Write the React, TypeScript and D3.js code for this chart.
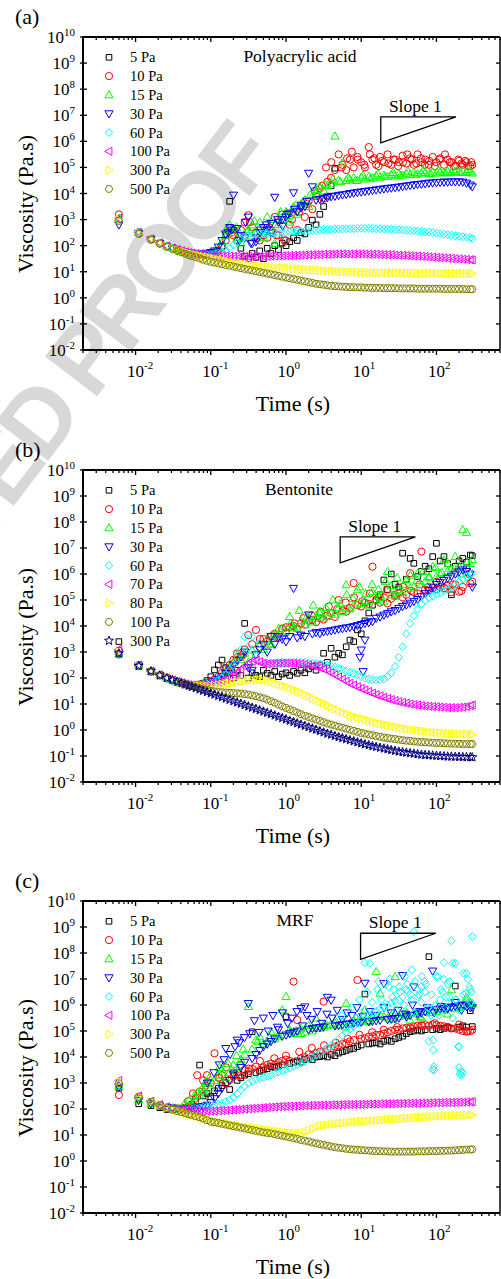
import React, { useEffect } from 'react';
import * as d3 from 'd3';

// ---------- shared time grid (s) ----------
const TIME = [
  0.006, 0.011, 0.016, 0.021, 0.026, 0.031, 0.036, 0.041, 0.046, 0.051, 0.056, 0.063, 0.071, 0.079, 0.089,
  0.1, 0.112, 0.126, 0.141, 0.158, 0.178, 0.2, 0.224, 0.251, 0.282, 0.316, 0.355, 0.398, 0.447, 0.501, 0.562, 0.631, 0.708, 0.794, 0.891,
  1, 1.12, 1.26, 1.41, 1.58, 1.78, 2, 2.24, 2.51, 2.82, 3.16, 3.55, 3.98, 4.47, 5.01, 5.62, 6.31, 7.08, 7.94, 8.91,
  10, 11.2, 12.6, 14.1, 15.8, 17.8, 20, 22.4, 25.1, 28.2, 31.6, 35.5, 39.8, 44.7, 50.1, 56.2, 63.1, 70.8, 79.4, 89.1,
  100, 112, 126, 141, 158, 178, 200, 224, 251, 282, 300,
];

// ---------- (a) Polyacrylic acid: log10 viscosity (Pa.s) at TIME ----------
const PAA_5 = [
  3.0, 2.5, 2.25, 2.1, 1.98, 1.9, 1.84, 1.79, 1.75, 1.72, 1.7, 1.69, 1.68, 1.68, 1.69,
  1.7, 1.72, 1.8, 2.0, 2.4, 3.7, 2.6, 2.2, 1.9, 1.6, 1.5, 1.7, 1.55, 1.8, 1.5, 1.9, 1.7, 2.0, 1.85, 2.1,
  2.0, 2.15, 2.3, 2.2, 2.5, 2.45, 2.7, 2.98, 2.8, 3.2, 3.5, 3.9, 4.3, 4.97,
];
const PAA_10 = [
  3.2, 2.52, 2.26, 2.1, 1.98, 1.9, 1.84, 1.79, 1.75, 1.72, 1.7, 1.69, 1.68, 1.68, 1.69,
  1.71, 1.75, 1.82, 1.95, 2.2, 2.66, 2.4, 2.2, 2.6, 2.9, 3.17, 2.7, 2.5, 2.2, 2.4, 2.3, 2.6, 3.1, 2.4, 3.2,
  2.2, 2.8, 3.3, 2.6, 3.5, 3.1, 3.7, 3.4, 3.9, 4.2, 3.8, 4.45, 4.6, 4.9, 5.5, 5.1, 4.9, 5.3, 5.0, 5.4,
  5.2, 5.0, 5.78, 5.3, 5.1, 5.4, 5.2, 5.5, 5.1, 5.3, 5.2, 5.45, 5.15, 5.35, 5.1, 5.5, 5.2, 5.3, 5.1, 5.4,
  5.2, 5.35, 5.1, 5.3, 5.2, 5.05, 5.25, 5.1, 5.2, 5.05, 5.1,
];
const PAA_10_OUT_T = [0.19, 0.33, 0.42, 0.6, 0.75, 0.95, 1.2, 1.5, 1.9, 2.4, 3.0, 3.4, 4.0, 5.5, 6.5, 7.5, 9, 11, 13, 15, 17, 19, 23, 27, 31, 36, 41, 47, 54, 62, 70, 80, 95, 110, 130, 150, 170, 195, 215, 240, 265, 290];
const PAA_10_OUT_V = [2.5, 2.9, 2.3, 2.7, 2.4, 2.2, 3.0, 3.3, 3.6, 4.1, 4.3, 5.0, 5.2, 5.0, 5.35, 5.6, 5.3, 5.1, 5.5, 5.35, 5.05, 5.25, 5.15, 5.3, 5.05, 5.2, 5.5, 5.3, 5.15, 5.35, 5.1, 5.25, 5.05, 5.3, 5.5, 5.2, 5.05, 5.3, 5.15, 5.25, 5.05, 5.2];
const PAA_15 = [
  3.05, 2.5, 2.25, 2.1, 1.98, 1.9, 1.84, 1.79, 1.75, 1.72, 1.7, 1.69, 1.68, 1.69, 1.7,
  1.72, 1.78, 1.9, 2.15, 2.6, 2.79, 2.5, 2.3, 2.1, 2.4, 2.6, 2.79, 2.5, 2.9, 2.3, 3.1, 2.6, 2.08, 2.8, 3.0,
  3.3, 2.9, 3.49, 3.2, 3.6, 3.75, 3.5, 3.9, 4.0, 4.26, 4.1, 4.3, 4.4, 6.2, 4.51, 5.17, 4.5, 4.55, 4.6, 4.5,
  4.62, 4.55, 4.65, 4.6, 4.68, 4.62, 4.7, 4.65, 4.72, 4.68, 4.75, 4.7, 4.77, 4.72, 4.8, 4.75, 4.78, 4.8, 4.76, 4.82,
  4.78, 4.83, 4.8, 4.85, 4.8, 4.84, 4.82, 4.86, 4.8, 4.83, 4.78,
];
const PAA_15_OUT_T = [0.16, 0.22, 0.3, 0.38, 0.52, 0.66, 0.85, 1.1, 1.35, 1.7, 2.1, 2.6, 3.3, 4.2, 5.3, 6.7, 8.4, 10.6, 13.3, 16.8, 21, 26.6, 33.5, 42, 53, 67, 84, 106, 133, 168, 211, 266];
const PAA_15_OUT_V = [2.4, 2.7, 2.55, 2.95, 2.6, 3.0, 3.3, 3.15, 3.55, 3.7, 3.95, 4.15, 4.35, 4.55, 4.45, 4.6, 4.5, 4.7, 4.58, 4.75, 4.65, 4.8, 4.7, 4.85, 4.72, 4.88, 4.75, 4.9, 4.78, 4.9, 4.8, 4.92];
const PAA_30 = [
  2.8, 2.48, 2.24, 2.09, 1.97, 1.89, 1.83, 1.78, 1.74, 1.71, 1.69, 1.68, 1.68, 1.69, 1.71,
  1.74, 1.8, 1.95, 2.2, 2.45, 2.7, 3.94, 2.66, 2.4, 2.3, 3.1, 2.08, 2.15, 2.5, 2.7, 2.6, 2.85, 3.86, 2.9, 3.0,
  3.1, 3.25, 4.03, 3.3, 3.45, 3.5, 4.78, 4.26, 3.75, 3.78, 3.82, 3.85, 3.88, 3.9, 3.93, 3.95, 3.97, 4.0, 4.02, 4.04,
  4.06, 4.08, 4.1, 4.12, 4.14, 4.16, 4.18, 4.2, 4.21, 4.23, 4.25, 4.27, 4.29, 4.31, 4.33, 4.35, 4.36, 4.38, 4.4, 4.41,
  4.42, 4.43, 4.44, 4.44, 4.45, 4.45, 4.45, 4.44, 4.4, 4.33, 4.26,
];
const PAA_30_OUT_T = [0.17, 0.19, 0.24, 0.29, 0.34, 0.4, 0.46, 0.55, 0.65, 0.78, 0.9, 1.05, 1.3, 1.6, 1.9];
const PAA_30_OUT_V = [2.5, 2.6, 2.2, 2.9, 2.1, 2.3, 2.6, 2.8, 2.5, 3.0, 2.75, 3.2, 3.4, 3.55, 3.7];
const PAA_60 = [
  2.95, 2.5, 2.24, 2.1, 1.98, 1.9, 1.84, 1.79, 1.75, 1.72, 1.7, 1.68, 1.67, 1.66, 1.66,
  1.66, 1.68, 1.71, 1.76, 1.83, 1.92, 2.02, 2.13, 2.24, 2.33, 2.38, 2.41, 2.43, 2.44, 2.45, 2.46, 2.47, 2.48, 2.49, 2.5,
  2.51, 2.52, 2.53, 2.54, 2.55, 2.56, 2.57, 2.58, 2.59, 2.6, 2.61, 2.62, 2.62, 2.63, 2.64, 2.64, 2.65, 2.65, 2.65, 2.66,
  2.66, 2.66, 2.66, 2.66, 2.65, 2.65, 2.64, 2.64, 2.63, 2.62, 2.61, 2.6, 2.59, 2.58, 2.57, 2.56, 2.55, 2.53, 2.52, 2.5,
  2.48, 2.46, 2.44, 2.42, 2.4, 2.38, 2.36, 2.34, 2.32, 2.3, 2.28,
];
const PAA_100 = [
  3.05, 2.5, 2.26, 2.11, 1.99, 1.91, 1.85, 1.8, 1.76, 1.73, 1.71, 1.69, 1.67, 1.66, 1.65,
  1.64, 1.63, 1.62, 1.61, 1.6, 1.6, 1.59, 1.59, 1.58, 1.58, 1.58, 1.58, 1.58, 1.58, 1.59, 1.59, 1.6, 1.6, 1.61, 1.61,
  1.62, 1.62, 1.63, 1.63, 1.64, 1.64, 1.65, 1.65, 1.66, 1.66, 1.67, 1.67, 1.67, 1.68, 1.68, 1.68, 1.68, 1.68, 1.68, 1.68,
  1.68, 1.68, 1.67, 1.67, 1.67, 1.66, 1.66, 1.65, 1.65, 1.64, 1.63, 1.63, 1.62, 1.61, 1.6, 1.6, 1.59, 1.58, 1.57, 1.56,
  1.55, 1.54, 1.53, 1.52, 1.51, 1.5, 1.49, 1.48, 1.47, 1.46, 1.45,
];
const PAA_300 = [
  3.0, 2.48, 2.25, 2.1, 1.98, 1.9, 1.84, 1.79, 1.75, 1.71, 1.68, 1.65, 1.62, 1.59, 1.56,
  1.53, 1.5, 1.47, 1.44, 1.41, 1.38, 1.35, 1.33, 1.31, 1.29, 1.27, 1.25, 1.23, 1.21, 1.2, 1.19, 1.18, 1.17, 1.16, 1.15,
  1.14, 1.13, 1.12, 1.11, 1.1, 1.09, 1.08, 1.07, 1.06, 1.05, 1.04, 1.03, 1.02, 1.01, 1.0, 0.99, 0.99, 0.98, 0.98, 0.98,
  0.97, 0.97, 0.97, 0.96, 0.96, 0.96, 0.96, 0.96, 0.95, 0.95, 0.95, 0.95, 0.95, 0.95, 0.95, 0.94, 0.94, 0.94, 0.94, 0.94,
  0.94, 0.94, 0.94, 0.94, 0.94, 0.94, 0.94, 0.94, 0.93, 0.93, 0.93,
];
const PAA_500 = [
  2.95, 2.45, 2.23, 2.08, 1.96, 1.87, 1.8, 1.74, 1.69, 1.64, 1.6, 1.56, 1.51, 1.46, 1.42,
  1.38, 1.35, 1.32, 1.29, 1.26, 1.23, 1.2, 1.17, 1.14, 1.11, 1.08, 1.05, 1.02, 0.99, 0.96, 0.93, 0.9, 0.87, 0.84, 0.81,
  0.78, 0.75, 0.72, 0.69, 0.66, 0.63, 0.6, 0.57, 0.54, 0.52, 0.5, 0.48, 0.46, 0.45, 0.44, 0.43, 0.42, 0.41, 0.41, 0.4,
  0.4, 0.39, 0.39, 0.38, 0.38, 0.38, 0.37, 0.37, 0.37, 0.37, 0.36, 0.36, 0.36, 0.36, 0.36, 0.35, 0.35, 0.35, 0.35, 0.35,
  0.35, 0.35, 0.34, 0.34, 0.34, 0.34, 0.34, 0.34, 0.33, 0.33, 0.33,
];

// ---------- (b) Bentonite ----------
const BEN_5 = [
  3.4, 2.47, 2.25, 2.1, 1.99, 1.91, 1.85, 1.8, 1.76, 1.74, 1.73, 1.74, 1.76, 1.8, 1.9,
  2.05, 2.31, 2.5, 2.69, 2.4, 2.2, 2.0, 2.3, 2.1, 4.1, 2.0, 2.2, 2.1, 2.05, 2.3, 2.18, 2.1, 2.25, 2.05, 2.15,
  2.2, 2.1, 2.25, 2.18, 2.3, 2.2, 2.35, 2.44, 2.3, 2.5, 2.95, 2.6, 3.14, 2.8, 2.95, 2.89, 3.2, 3.46, 3.4, 3.85,
  3.7, 4.2, 4.5, 4.8, 5.0, 5.2, 5.77, 5.4, 6.0, 5.6, 5.5, 6.8, 5.8, 6.6, 6.41, 5.9, 6.1, 6.3, 6.2, 6.67,
  7.18, 6.5, 6.67, 6.4, 5.2, 6.3, 6.5, 6.6, 6.45, 6.73, 6.7,
];
const BEN_10 = [
  3.05, 2.5, 2.26, 2.11, 2.0, 1.92, 1.86, 1.81, 1.77, 1.74, 1.73, 1.73, 1.75, 1.78, 1.82,
  1.88, 1.95, 2.05, 2.2, 2.35, 2.5, 2.7, 2.95, 2.8, 3.1, 3.65, 3.3, 3.85, 3.2, 3.5, 3.4, 3.6, 3.7, 3.55, 3.9,
  3.75, 3.95, 4.0, 3.9, 4.1, 4.05, 4.2, 4.23, 4.15, 4.3, 4.25, 4.4, 4.5, 4.35, 5.0, 4.6, 4.55, 4.7, 5.65, 4.8,
  4.75, 4.9, 4.85, 6.28, 5.0, 4.9, 5.1, 4.87, 5.05, 5.15, 5.26, 5.1, 5.2, 6.03, 5.3, 5.25, 6.86, 5.4, 5.35, 5.45,
  5.4, 5.5, 5.45, 5.55, 5.3, 5.6, 5.32, 5.5, 6.2, 5.64, 5.7,
];
const BEN_10_OUT_T = [0.17, 0.21, 0.27, 0.45, 0.7, 1.0, 1.3, 1.7, 2.2, 2.9, 3.7, 4.8, 6.2, 8, 10.3, 13, 17, 22, 28, 36, 46, 60, 77, 100, 130, 165, 215, 270];
const BEN_10_OUT_V = [2.3, 2.6, 2.9, 3.5, 3.6, 3.95, 4.1, 4.3, 4.4, 4.55, 4.75, 4.65, 4.9, 5.1, 4.95, 5.25, 5.1, 5.4, 5.2, 5.5, 5.35, 5.6, 5.5, 5.7, 5.45, 5.6, 5.35, 6.0];
const BEN_15 = [
  2.92, 2.48, 2.25, 2.1, 1.99, 1.91, 1.85, 1.8, 1.76, 1.73, 1.72, 1.72, 1.73, 1.76, 1.8,
  1.85, 1.92, 2.0, 2.1, 2.25, 2.45, 2.6, 2.88, 2.7, 2.95, 2.6, 3.07, 2.9, 3.3, 3.1, 3.5, 3.3, 3.7, 3.6, 3.9,
  3.8, 4.36, 3.95, 3.91, 4.2, 4.05, 4.3, 4.15, 4.4, 4.49, 4.3, 4.36, 4.5, 4.45, 4.7, 4.55, 5.58, 4.65, 4.8, 5.39,
  4.85, 4.94, 4.8, 5.32, 5.0, 5.1, 4.95, 6.09, 5.2, 5.15, 5.39, 5.3, 5.77, 5.45, 5.5, 6.03, 5.6, 5.7, 5.85, 6.28,
  5.9, 6.0, 6.54, 6.1, 6.2, 6.67, 6.3, 7.7, 7.6, 6.4, 6.55,
];
const BEN_15_OUT_T = [0.6, 0.8, 1.15, 1.5, 1.9, 2.3, 2.8, 3.4, 4.2, 5.2, 6.4, 7.8, 9.5, 11.5, 14, 17, 21, 25, 30, 37, 45, 55, 66, 80, 97, 118, 143, 173, 210, 255];
const BEN_15_OUT_V = [3.3, 3.9, 4.1, 4.6, 4.35, 4.8, 4.55, 4.7, 5.0, 4.85, 5.2, 5.05, 5.5, 5.25, 5.6, 5.4, 5.7, 5.55, 5.85, 5.6, 5.95, 5.75, 6.1, 5.9, 6.25, 6.05, 6.4, 6.2, 6.0, 6.45];
const BEN_30 = [
  2.95, 2.47, 2.25, 2.1, 1.99, 1.91, 1.85, 1.8, 1.76, 1.73, 1.71, 1.71, 1.72, 1.74, 1.77,
  1.81, 1.87, 1.95, 2.05, 2.18, 2.32, 2.5, 2.68, 2.82, 3.0, 2.4, 2.3, 2.9, 3.1, 3.3, 3.0, 3.6, 3.3, 3.59, 3.5,
  3.4, 3.6, 5.45, 3.55, 3.65, 3.6, 4.43, 3.7, 3.75, 3.72, 3.78, 3.8, 3.82, 3.85, 3.88, 3.9, 3.93, 3.95, 3.98, 4.02,
  4.06, 4.1, 4.13, 4.17, 4.3, 4.35, 4.42, 4.48, 4.55, 4.6, 4.68, 4.75, 4.81, 4.88, 4.95, 5.02, 5.13, 5.25, 5.38, 5.5,
  5.6, 5.68, 5.76, 5.84, 5.92, 6.0, 6.08, 6.16, 6.1, 6.0, 5.5,
];
const BEN_30_OUT_T = [9.6, 10, 10.6, 11.2];
const BEN_30_OUT_V = [2.8, 3.08, 2.25, 3.46];
const BEN_60 = [
  2.9, 2.48, 2.25, 2.1, 1.99, 1.91, 1.85, 1.8, 1.76, 1.73, 1.71, 1.71, 1.72, 1.74, 1.77,
  1.8, 1.85, 1.92, 2.0, 2.12, 2.3, 2.5, 2.75, 3.08, 3.59, 3.2, 3.6, 2.9, 3.35, 2.6, 2.57, 2.58, 2.58, 2.59, 2.59,
  2.59, 2.6, 2.6, 2.6, 2.6, 2.59, 2.58, 2.57, 2.56, 2.54, 2.52, 2.49, 2.46, 2.42, 2.37, 2.32, 2.27, 2.22, 2.17, 2.12,
  2.05, 2.0, 1.96, 1.93, 1.92, 1.93, 1.97, 2.05, 2.2, 2.44, 2.8, 3.2, 3.7, 4.1, 4.4, 4.65, 4.85, 4.98, 5.08, 5.15,
  5.22, 5.28, 5.35, 5.42, 5.5, 5.6, 5.7, 5.8, 5.9, 5.98, 6.03,
];
const BEN_70 = [
  3.1, 2.5, 2.27, 2.12, 2.0, 1.92, 1.86, 1.81, 1.77, 1.74, 1.72, 1.71, 1.71, 1.72, 1.74,
  1.77, 1.8, 1.84, 1.89, 1.95, 2.03, 2.12, 2.22, 2.33, 2.45, 2.57, 2.65, 2.67, 2.62, 2.56, 2.54, 2.55, 2.56, 2.57, 2.57,
  2.57, 2.57, 2.56, 2.55, 2.54, 2.52, 2.5, 2.47, 2.44, 2.4, 2.35, 2.28, 2.2, 2.12, 2.04, 1.96, 1.88, 1.8, 1.73, 1.66,
  1.6, 1.54, 1.48, 1.42, 1.36, 1.31, 1.26, 1.21, 1.17, 1.13, 1.09, 1.06, 1.03, 1.0, 0.98, 0.96, 0.94, 0.92, 0.91, 0.9,
  0.89, 0.88, 0.87, 0.86, 0.86, 0.86, 0.87, 0.88, 0.9, 0.93, 0.96,
];
const BEN_80 = [
  3.0, 2.48, 2.26, 2.11, 2.0, 1.92, 1.86, 1.81, 1.77, 1.74, 1.72, 1.71, 1.7, 1.7, 1.7,
  1.71, 1.72, 1.74, 1.76, 1.78, 1.8, 1.82, 1.84, 1.86, 1.88, 1.9, 1.92, 1.93, 1.93, 1.92, 1.9, 1.86, 1.81, 1.76, 1.72,
  1.67, 1.61, 1.56, 1.5, 1.44, 1.37, 1.3, 1.23, 1.16, 1.09, 1.02, 0.95, 0.88, 0.81, 0.75, 0.69, 0.63, 0.57, 0.52, 0.48,
  0.44, 0.4, 0.36, 0.32, 0.28, 0.24, 0.21, 0.18, 0.15, 0.12, 0.09, 0.06, 0.04, 0.02, 0.0, -0.02, -0.04, -0.06, -0.08, -0.09,
  -0.1, -0.11, -0.12, -0.13, -0.14, -0.14, -0.15, -0.16, -0.16, -0.17, -0.17,
];
const BEN_100 = [
  2.9, 2.45, 2.25, 2.1, 2.0, 1.92, 1.86, 1.81, 1.76, 1.72, 1.68, 1.64, 1.6, 1.57, 1.54,
  1.5, 1.48, 1.46, 1.45, 1.44, 1.43, 1.42, 1.41, 1.4, 1.38, 1.36, 1.33, 1.3, 1.26, 1.22, 1.17, 1.11, 1.05, 0.98, 0.91,
  0.85, 0.79, 0.73, 0.67, 0.61, 0.55, 0.5, 0.45, 0.4, 0.35, 0.3, 0.25, 0.21, 0.17, 0.13, 0.09, 0.05, 0.01, -0.03, -0.07,
  -0.11, -0.14, -0.17, -0.2, -0.23, -0.26, -0.29, -0.31, -0.33, -0.35, -0.37, -0.39, -0.41, -0.42, -0.44, -0.45, -0.46, -0.47, -0.48, -0.49,
  -0.5, -0.5, -0.51, -0.52, -0.52, -0.53, -0.53, -0.54, -0.54, -0.54, -0.54,
];
const BEN_300 = [
  2.95, 2.46, 2.26, 2.1, 2.0, 1.92, 1.85, 1.8, 1.75, 1.7, 1.66, 1.61, 1.56, 1.51, 1.46,
  1.41, 1.36, 1.31, 1.26, 1.21, 1.16, 1.11, 1.06, 1.01, 0.96, 0.91, 0.86, 0.81, 0.76, 0.71, 0.66, 0.61, 0.56, 0.51, 0.46,
  0.41, 0.36, 0.31, 0.26, 0.21, 0.16, 0.11, 0.06, 0.01, -0.04, -0.09, -0.14, -0.18, -0.23, -0.27, -0.31, -0.35, -0.39, -0.43, -0.47,
  -0.51, -0.55, -0.58, -0.62, -0.65, -0.68, -0.71, -0.74, -0.77, -0.8, -0.83, -0.85, -0.87, -0.89, -0.91, -0.93, -0.95, -0.96, -0.97, -0.98,
  -0.99, -1.0, -1.01, -1.02, -1.02, -1.03, -1.03, -1.04, -1.04, -1.04, -1.05,
];

// ---------- (c) MRF ----------
const MRF_5 = [
  2.8, 2.2, 2.13, 2.05, 1.98, 1.98, 2.0, 2.02, 2.05, 2.1, 2.18, 2.3, 3.69, 2.5, 2.6,
  2.47, 2.7, 2.8, 2.9, 3.0, 2.75, 3.3, 3.1, 3.2, 3.3, 3.35, 4.97, 3.4, 3.45, 3.5, 3.55, 3.63, 3.6, 3.65, 3.7,
  5.55, 3.75, 3.8, 3.85, 3.8, 3.9, 3.95, 3.9, 4.0, 4.01, 4.05, 4.0, 4.1, 4.05, 4.15, 4.2, 4.25, 4.3, 4.33, 4.4,
  4.46, 6.42, 4.5, 4.53, 4.55, 4.5, 4.6, 4.65, 4.6, 4.7, 4.75, 4.8, 4.9, 4.97, 5.0, 5.04, 5.0, 5.05, 7.86, 5.05,
  5.1, 5.05, 5.1, 5.15, 5.1, 6.73, 5.15, 5.2, 5.15, 5.78, 5.17,
];
const MRF_10 = [
  2.54, 2.4, 2.22, 2.12, 2.06, 2.03, 2.02, 2.02, 2.04, 2.08, 2.15, 2.4, 2.67, 3.1, 3.3,
  3.0, 4.14, 3.2, 3.3, 3.0, 3.12, 3.25, 3.4, 3.3, 3.5, 3.45, 3.55, 3.63, 3.5, 3.6, 3.7, 3.75, 3.7, 3.8, 3.85,
  3.9, 3.85, 6.9, 5.42, 3.95, 4.0, 4.1, 4.05, 4.15, 4.2, 6.13, 4.3, 4.33, 4.4, 4.45, 4.5, 4.53, 4.6, 4.65, 6.96,
  4.7, 4.72, 4.78, 4.8, 4.85, 4.85, 4.9, 4.95, 5.0, 5.04, 5.05, 5.1, 5.12, 5.15, 5.17, 5.2, 5.22, 5.23, 5.2, 5.25,
  5.23, 5.2, 5.18, 5.15, 5.1, 5.1, 5.05, 5.0, 4.97, 5.0, 5.05,
];
const MRF_10_OUT_T = [0.05, 0.058, 0.066, 0.085, 0.13, 0.16, 0.2, 0.25, 0.32, 0.45, 0.7, 1.0, 1.5, 2.2, 3.2, 4.6, 6.6, 9.5, 14, 20, 30, 45, 65, 95, 140, 200, 260];
const MRF_10_OUT_V = [2.3, 2.6, 3.3, 2.9, 3.2, 3.6, 3.4, 3.7, 3.55, 3.85, 3.95, 4.05, 4.2, 4.35, 4.45, 4.55, 4.7, 4.85, 4.95, 5.05, 5.15, 5.1, 5.2, 5.3, 5.15, 5.25, 5.0];
const MRF_15 = [
  2.9, 2.35, 2.2, 2.12, 2.07, 2.04, 2.03, 2.04, 2.06, 2.1, 2.15, 2.28, 2.54, 2.7, 2.99,
  2.8, 3.1, 3.3, 3.5, 3.2, 3.4, 3.7, 3.6, 3.9, 4.1, 5.94, 4.3, 4.65, 4.78, 4.5, 4.6, 4.97, 4.7, 4.8, 5.81,
  6.32, 5.04, 4.9, 5.0, 5.1, 4.95, 5.2, 5.0, 5.49, 5.1, 5.15, 5.2, 5.25, 5.3, 5.2, 5.35, 6.06, 5.3, 5.4, 5.35,
  5.45, 5.81, 5.4, 5.5, 7.28, 6.45, 5.55, 5.5, 5.6, 7.09, 5.55, 5.65, 5.6, 5.42, 5.7, 5.65, 5.5, 5.75, 5.7, 5.8,
  5.75, 5.85, 5.8, 5.9, 6.58, 5.85, 5.95, 6.0, 6.3, 6.1, 6.05,
];
const MRF_15_OUT_T = [0.045, 0.052, 0.06, 0.068, 0.077, 0.087, 0.095, 0.13, 0.17, 0.22, 0.27, 0.42, 0.6, 0.8, 1.1, 1.6, 2.3, 3.2, 4.5, 6.2, 8.5, 12, 18, 26, 40, 60, 90, 140, 200, 250];
const MRF_15_OUT_V = [2.2, 2.35, 2.5, 2.65, 2.8, 3.05, 3.2, 3.6, 3.75, 4.05, 4.3, 4.6, 4.75, 4.85, 5.0, 4.9, 5.1, 5.25, 5.4, 5.15, 5.5, 5.35, 5.6, 5.45, 5.7, 5.55, 5.8, 5.65, 5.9, 6.2];
const MRF_30 = [
  2.85, 2.33, 2.2, 2.12, 2.06, 2.03, 2.01, 2.0, 2.0, 2.01, 2.02, 2.04, 2.07, 2.1, 2.15,
  2.25, 2.4, 2.6, 2.8, 4.33, 3.1, 3.35, 4.65, 3.6, 3.8, 6.06, 3.95, 4.1, 4.25, 4.4, 4.5, 4.6, 4.7, 5.05, 4.8,
  4.85, 4.9, 4.95, 5.0, 5.87, 5.93, 5.05, 5.1, 5.12, 5.14, 5.16, 6.3, 6.19, 5.2, 5.22, 5.24, 5.26, 5.28, 5.3, 5.32,
  5.34, 6.84, 5.36, 5.38, 5.4, 5.42, 6.83, 5.44, 5.46, 5.48, 5.5, 7.14, 5.55, 5.6, 6.7, 5.65, 5.7, 5.75, 5.8, 7.31,
  5.82, 5.85, 5.88, 5.9, 5.92, 5.95, 5.98, 6.0, 5.95, 5.9, 5.9,
];
const MRF_30_OUT_T = [0.09, 0.11, 0.13, 0.15, 0.18, 0.21, 0.24, 0.28, 0.33, 0.38, 0.44, 0.5, 0.58, 0.67, 0.77, 0.9, 1.05, 1.2, 1.4, 1.65, 1.9, 2.2, 2.6, 3.0, 3.5, 4.1, 4.8, 5.6, 6.5, 7.5, 8.8, 10.5, 13, 16, 20, 25, 31, 39, 48, 60, 75, 93, 115, 140, 175, 215, 265];
const MRF_30_OUT_V = [3.0, 3.4, 3.7, 3.9, 4.1, 4.4, 4.55, 4.75, 4.9, 5.4, 4.95, 5.5, 5.0, 5.6, 5.15, 5.7, 5.3, 5.5, 5.75, 5.2, 5.6, 5.45, 5.75, 5.3, 5.65, 5.5, 5.8, 5.45, 5.7, 5.6, 5.9, 5.55, 5.75, 5.6, 5.9, 5.7, 5.8, 5.65, 6.0, 5.75, 5.9, 5.7, 5.95, 5.85, 6.1, 5.8, 6.0];
const MRF_60 = [
  2.95, 2.45, 2.25, 2.13, 2.05, 2.01, 1.99, 1.98, 1.98, 1.99, 2.0, 2.02, 2.04, 2.07, 2.1,
  2.13, 2.15, 2.18, 2.22, 2.28, 2.35, 2.45, 2.58, 2.73, 2.88, 2.99, 3.07, 3.13, 3.18, 3.22, 3.26, 3.3, 3.36, 3.42, 3.47,
  3.52, 3.58, 3.64, 3.7, 3.76, 3.84, 3.92, 4.0, 4.08, 4.16, 4.24, 4.34, 4.44, 4.55, 4.68, 4.82, 4.95, 5.06, 5.17, 5.3,
  5.45, 7.63, 5.6, 5.68, 5.76, 5.84, 5.92, 6.0, 6.08, 6.15, 6.19, 6.3, 6.6, 6.4, 8.82, 6.32, 6.7, 6.5, 4.6, 3.52,
  7.09, 6.2, 7.63, 6.8, 8.47, 7.6, 4.4, 3.4, 7.22, 6.6, 8.63,
];
const MRF_60_OUT_T = [
  13, 17, 21, 24, 27, 32, 38, 42, 47, 52, 58, 64, 72, 78, 85, 90, 91, 92, 93, 105, 115, 125, 135, 150, 165, 180, 195, 200, 205, 210, 215, 230, 245, 260, 275, 290,
  5.5, 6.5, 7.5, 8.5, 9.5, 11, 12, 14, 15, 16.5, 18.5, 20, 23, 26, 29, 33, 37, 41, 46, 51, 57, 63, 70, 77, 86, 97, 108, 120, 133, 148, 165, 185, 205, 230, 255, 285,
];
const MRF_60_OUT_V = [
  7.6, 6.9, 6.8, 7.0, 6.6, 6.7, 7.1, 6.5, 7.35, 6.9, 6.4, 7.1, 6.8, 5.9, 5.6, 4.65, 4.27, 3.63, 3.5, 7.09, 6.6, 7.0, 6.3, 6.9, 7.6, 6.2, 4.4, 3.6, 3.35, 3.45, 3.3, 7.22, 6.45, 7.0, 6.7, 6.5,
  5.6, 5.2, 5.9, 5.5, 6.2, 5.8, 6.5, 6.1, 5.7, 6.6, 6.2, 5.9, 6.7, 6.3, 5.8, 6.5, 6.0, 6.8, 6.2, 5.7, 6.6, 6.1, 6.9, 5.9, 6.4, 6.0, 5.6, 6.5, 5.9, 6.3, 5.5, 6.2, 5.8, 6.4, 6.0, 6.1,
];
const MRF_100 = [
  3.1, 2.5, 2.3, 2.17, 2.08, 2.03, 2.0, 1.98, 1.96, 1.95, 1.94, 1.93, 1.93, 1.92, 1.92,
  1.92, 1.92, 1.93, 1.94, 1.95, 1.96, 1.97, 1.98, 1.99, 2.0, 2.01, 2.02, 2.03, 2.04, 2.05, 2.06, 2.07, 2.08, 2.09, 2.1,
  2.1, 2.11, 2.11, 2.12, 2.12, 2.13, 2.13, 2.14, 2.14, 2.15, 2.15, 2.15, 2.16, 2.16, 2.16, 2.17, 2.17, 2.17, 2.18, 2.18,
  2.18, 2.18, 2.19, 2.19, 2.19, 2.2, 2.2, 2.2, 2.2, 2.21, 2.21, 2.21, 2.22, 2.22, 2.22, 2.22, 2.23, 2.23, 2.23, 2.24,
  2.24, 2.24, 2.25, 2.25, 2.25, 2.26, 2.26, 2.26, 2.27, 2.27, 2.28,
];
const MRF_300 = [
  3.05, 2.5, 2.3, 2.16, 2.04, 1.97, 1.92, 1.88, 1.84, 1.8, 1.76, 1.72, 1.68, 1.64, 1.6,
  1.56, 1.53, 1.5, 1.47, 1.44, 1.41, 1.38, 1.36, 1.34, 1.32, 1.3, 1.28, 1.26, 1.24, 1.22, 1.2, 1.18, 1.16, 1.14, 1.12,
  1.1, 1.08, 1.07, 1.06, 1.07, 1.1, 1.16, 1.24, 1.3, 1.34, 1.37, 1.39, 1.41, 1.43, 1.44, 1.46, 1.47, 1.49, 1.5, 1.51,
  1.52, 1.53, 1.54, 1.55, 1.56, 1.57, 1.58, 1.59, 1.6, 1.61, 1.62, 1.63, 1.64, 1.65, 1.66, 1.67, 1.68, 1.69, 1.7, 1.71,
  1.72, 1.73, 1.73, 1.74, 1.74, 1.75, 1.75, 1.76, 1.76, 1.77, 1.77,
];
const MRF_500 = [
  2.99, 2.47, 2.28, 2.15, 2.03, 1.97, 1.92, 1.88, 1.84, 1.8, 1.77, 1.72, 1.68, 1.63, 1.57,
  1.51, 1.49, 1.46, 1.43, 1.4, 1.37, 1.34, 1.31, 1.28, 1.25, 1.22, 1.19, 1.16, 1.13, 1.1, 1.08, 1.06, 1.03, 1.0, 0.97,
  0.94, 0.91, 0.88, 0.85, 0.81, 0.78, 0.75, 0.71, 0.68, 0.65, 0.62, 0.59, 0.56, 0.53, 0.51, 0.49, 0.47, 0.45, 0.44, 0.43,
  0.42, 0.41, 0.4, 0.39, 0.38, 0.38, 0.37, 0.37, 0.36, 0.36, 0.36, 0.36, 0.36, 0.36, 0.36, 0.37, 0.37, 0.37, 0.38, 0.38,
  0.38, 0.39, 0.39, 0.4, 0.4, 0.41, 0.42, 0.43, 0.44, 0.44, 0.45,
];

// ---------- labels ----------
const PAA_LABELS = ['5 Pa', '10 Pa', '15 Pa', '30 Pa', '60 Pa', '100 Pa', '300 Pa', '500 Pa'];
const BEN_LABELS = ['5 Pa', '10 Pa', '15 Pa', '30 Pa', '60 Pa', '70 Pa', '80 Pa', '100 Pa', '300 Pa'];
const MRF_LABELS = ['5 Pa', '10 Pa', '15 Pa', '30 Pa', '60 Pa', '100 Pa', '300 Pa', '500 Pa'];
const Y_EXPONENTS = [-2, -1, 0, 1, 2, 3, 4, 5, 6, 7, 8, 9, 10];
const X_EXPONENTS = [-2, -1, 0, 1, 2];

// slope-1 guide triangles (time from, time to, viscosity at top edge)
const SLOPE_A = [18.2, 182, 8.7e6];
const SLOPE_B = [5.25, 52.5, 2.7e7];
const SLOPE_C = [9.8, 98, 5.75e8];

// ---------- styles ----------
type Shape = 'square' | 'circle' | 'up' | 'down' | 'diamond' | 'left' | 'right' | 'hexagon' | 'star';
const BLACK = '#000000', RED = '#ff0000', GREEN = '#00ff00', BLUE = '#0000ff', CYAN = '#00ffff',
  MAGENTA = '#ff00ff', YELLOW = '#ffff00', OLIVE = '#808000', NAVY = '#000080';

function starPath(R: number, r: number) {
  const pts: string[] = [];
  for (let k = 0; k < 10; k++) {
    const a = -Math.PI / 2 + (k * Math.PI) / 5;
    const rad = k % 2 === 0 ? R : r;
    pts.push(`${(rad * Math.cos(a)).toFixed(2)},${(rad * Math.sin(a)).toFixed(2)}`);
  }
  return 'M' + pts.join('L') + 'Z';
}
const MARKERS: Record<Shape, string> = {
  square: 'M-2.8,-2.8H2.8V2.8H-2.8Z',
  circle: 'M3.6,0A3.6,3.6 0 1,1 -3.6,0A3.6,3.6 0 1,1 3.6,0Z',
  up: 'M0,-4.3L4.1,2.9H-4.1Z',
  down: 'M0,4.3L4.1,-2.9H-4.1Z',
  left: 'M-4.3,0L2.9,-4.1V4.1Z',
  right: 'M4.3,0L-2.9,-4.1V4.1Z',
  diamond: 'M0,-4L3.7,0L0,4L-3.7,0Z',
  hexagon: 'M3.8,0L1.9,3.3L-1.9,3.3L-3.8,0L-1.9,-3.3L1.9,-3.3Z',
  star: starPath(4.7, 2.0),
};

interface Series { label: string; values: number[]; color: string; shape: Shape; outT?: number[]; outV?: number[] }
interface PanelCfg {
  top: number; bottom: number; tag: string; title: string; titleX: number;
  series: Series[]; slope: number[];
}

const mk = (labels: string[], data: number[][], colors: string[], shapes: Shape[]): Series[] =>
  labels.map((label, i) => ({ label, values: data[i], color: colors[i], shape: shapes[i] }));

const paaSeries = mk(PAA_LABELS, [PAA_5, PAA_10, PAA_15, PAA_30, PAA_60, PAA_100, PAA_300, PAA_500],
  [BLACK, RED, GREEN, BLUE, CYAN, MAGENTA, YELLOW, OLIVE],
  ['square', 'circle', 'up', 'down', 'diamond', 'left', 'right', 'hexagon']);
paaSeries[1].outT = PAA_10_OUT_T; paaSeries[1].outV = PAA_10_OUT_V;
paaSeries[2].outT = PAA_15_OUT_T; paaSeries[2].outV = PAA_15_OUT_V;
paaSeries[3].outT = PAA_30_OUT_T; paaSeries[3].outV = PAA_30_OUT_V;
const PANEL_A: PanelCfg = {
  top: 37, bottom: 350, tag: '(a)', title: 'Polyacrylic acid', titleX: 300, slope: SLOPE_A, series: paaSeries,
};
const benSeries = mk(BEN_LABELS, [BEN_5, BEN_10, BEN_15, BEN_30, BEN_60, BEN_70, BEN_80, BEN_100, BEN_300],
  [BLACK, RED, GREEN, BLUE, CYAN, MAGENTA, YELLOW, OLIVE, NAVY],
  ['square', 'circle', 'up', 'down', 'diamond', 'left', 'right', 'hexagon', 'star']);
benSeries[1].outT = BEN_10_OUT_T; benSeries[1].outV = BEN_10_OUT_V;
benSeries[2].outT = BEN_15_OUT_T; benSeries[2].outV = BEN_15_OUT_V;
benSeries[3].outT = BEN_30_OUT_T; benSeries[3].outV = BEN_30_OUT_V;
const PANEL_B: PanelCfg = {
  top: 470, bottom: 782, tag: '(b)', title: 'Bentonite', titleX: 299, slope: SLOPE_B, series: benSeries,
};
const mrfSeries = mk(MRF_LABELS, [MRF_5, MRF_10, MRF_15, MRF_30, MRF_60, MRF_100, MRF_300, MRF_500],
  [BLACK, RED, GREEN, BLUE, CYAN, MAGENTA, YELLOW, OLIVE],
  ['square', 'circle', 'up', 'down', 'diamond', 'left', 'right', 'hexagon']);
mrfSeries[1].outT = MRF_10_OUT_T; mrfSeries[1].outV = MRF_10_OUT_V;
mrfSeries[2].outT = MRF_15_OUT_T; mrfSeries[2].outV = MRF_15_OUT_V;
mrfSeries[3].outT = MRF_30_OUT_T; mrfSeries[3].outV = MRF_30_OUT_V;
mrfSeries[4].outT = MRF_60_OUT_T; mrfSeries[4].outV = MRF_60_OUT_V;
const PANEL_C: PanelCfg = {
  top: 901, bottom: 1213, tag: '(c)', title: 'MRF', titleX: 295, slope: SLOPE_C, series: mrfSeries,
};

const LEFT = 83, RIGHT = 500;
const FONT = "'Liberation Serif', 'Times New Roman', Times, serif";

function Panel({ cfg }: { cfg: PanelCfg }) {
  const x = d3.scaleLog().domain([0.002, 700]).range([LEFT, RIGHT]);
  const y = d3.scaleLog().domain([1e-2, 1e10]).range([cfg.bottom, cfg.top]);
  const xTicks = x.ticks();
  const isMajor = (t: number) => Math.abs(Math.log10(t) - Math.round(Math.log10(t))) < 1e-6;
  const [t0, t1, vTop] = cfg.slope;
  const sx0 = x(t0), sx1 = x(t1), syTop = y(vTop), syBot = y(vTop / 10);
  return (
    <g fontFamily={FONT} fill="#000">
      {cfg.series.map((s, si) => (
        <g key={si} stroke={s.color} strokeWidth={1} fill="none">
          {s.values.map((v, i) => (
            <path key={i} d={MARKERS[s.shape]} transform={`translate(${x(TIME[i]).toFixed(2)},${y(10 ** v).toFixed(2)})`} />
          ))}
          {s.outT && s.outV && s.outT.map((t, i) => (
            <path key={'o' + i} d={MARKERS[s.shape]} transform={`translate(${x(t).toFixed(2)},${y(10 ** s.outV![i]).toFixed(2)})`} />
          ))}
        </g>
      ))}
      <g stroke="#000" fill="none">
        <line x1={LEFT} x2={RIGHT} y1={cfg.top} y2={cfg.top} strokeWidth={2} />
        <line x1={LEFT} x2={RIGHT} y1={cfg.bottom} y2={cfg.bottom} strokeWidth={2} />
        <line x1={LEFT} x2={LEFT} y1={cfg.top - 1} y2={cfg.bottom + 1} strokeWidth={2} />
        <line x1={RIGHT} x2={RIGHT} y1={cfg.top} y2={cfg.bottom} strokeWidth={1.5} />
        {xTicks.map((t, i) => {
          const len = isMajor(t) ? 5 : 3;
          const xx = x(t);
          return (
            <g key={i} strokeWidth={1.3}>
              <line x1={xx} x2={xx} y1={cfg.top} y2={cfg.top + len} />
              <line x1={xx} x2={xx} y1={cfg.bottom} y2={cfg.bottom + len} />
            </g>
          );
        })}
        {Y_EXPONENTS.map((e) => {
          const yy = y(10 ** e);
          return (
            <g key={e} strokeWidth={1.3}>
              <line x1={LEFT - 3} x2={LEFT + 4} y1={yy} y2={yy} />
              <line x1={RIGHT - 4} x2={RIGHT} y1={yy} y2={yy} />
            </g>
          );
        })}
      </g>
      {Y_EXPONENTS.map((e) => (
        <text key={'yl' + e} x={75} y={y(10 ** e) + 6} textAnchor="end" fontSize={17}>
          10<tspan dy={-7} fontSize={11}>{e}</tspan>
        </text>
      ))}
      {X_EXPONENTS.map((e) => (
        <text key={'xl' + e} x={x(10 ** e) - 8.5} y={cfg.bottom + 27} fontSize={17}>
          10<tspan dy={-8} fontSize={11}>{e}</tspan>
        </text>
      ))}
      <text x={293} y={cfg.bottom + 61} textAnchor="middle" fontSize={22}>Time (s)</text>
      <text transform={`translate(33,${cfg.top + 167}) rotate(-90)`} textAnchor="middle" fontSize={22}>Viscosity (Pa.s)</text>
      <text x={15} y={cfg.top - 13} fontSize={22}>{cfg.tag}</text>
      <text x={cfg.titleX} y={cfg.top + 25} textAnchor="middle" fontSize={17.5}>{cfg.title}</text>
      {cfg.series.map((s, i) => {
        const ry = cfg.top + 20.3 + i * 18.8;
        return (
          <g key={'lg' + i}>
            <path d={MARKERS[s.shape]} transform={`translate(109,${ry})`} stroke={s.color} fill="none" strokeWidth={1} />
            <text x={130} y={ry + 5} fontSize={14.5}>{s.label}</text>
          </g>
        );
      })}
      <path d={`M${sx0},${syTop}H${sx1}L${sx0},${syBot}Z`} stroke="#000" strokeWidth={1.3} fill="none" />
      <text x={(sx0 + sx1) / 2 - 3} y={syTop - 5} textAnchor="middle" fontSize={17.5}>Slope 1</text>
    </g>
  );
}

export default function App() {
  useEffect(() => {
    document.body.style.margin = '0';
  }, []);
  return (
    <svg width={501} height={1279} viewBox="0 0 501 1279" style={{ position: 'absolute', left: 0, top: 0, display: 'block', background: '#fff' }}>
      <rect x={0} y={0} width={501} height={1279} fill="#fff" />
      <text transform="translate(276.7,160.5) rotate(-52.7)" textAnchor="end" fontSize={95} letterSpacing={-7} fontWeight="bold"
        fontFamily="'Liberation Sans', Arial, sans-serif" fill="#d8d8d8">UNCORRECTED PROOF</text>
      <Panel cfg={PANEL_A} />
      <Panel cfg={PANEL_B} />
      <Panel cfg={PANEL_C} />
    </svg>
  );
}
